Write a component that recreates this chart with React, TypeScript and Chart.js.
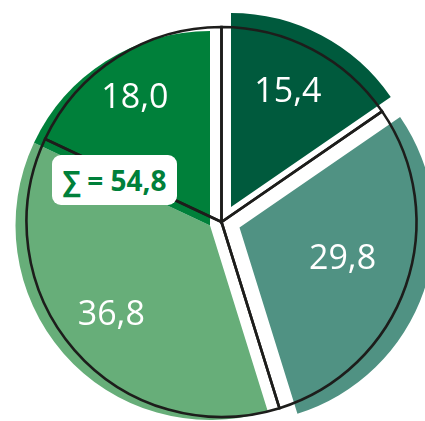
import React, { useEffect, useRef } from "react";
import { Chart, registerables } from "chart.js";

Chart.register(...registerables);

// ---- data ----
const categories = ["Teil 1", "Teil 2", "Teil 3", "Teil 4"];
const values = [15.4, 29.8, 36.8, 18.0];
const groupedIdx = [2, 3]; // slices summed in the badge

// ---- styling (kept apart from data) ----
const W = 425;
const H = 421;
const COLORS = ["#005a3d", "#509283", "#67ae79", "#00803a"];
const OUTLINE = "#1d1d1b";
const labelFrac = [0.76, 0.646, 0.734, 0.782];
const labelNudgeDeg = [-1.1, -3, 1.4, -2.2];

const fmt = (v: number) => v.toFixed(1).replace(".", ",");

const labelPlugin = {
  id: "sliceLabels",
  afterDatasetsDraw(chart: any) {
    const ctx = chart.ctx as CanvasRenderingContext2D;
    const meta = chart.getDatasetMeta(0);
    ctx.save();
    ctx.fillStyle = "#ffffff";
    ctx.font = '34px "Open Sans"';
    ctx.textAlign = "center";
    ctx.textBaseline = "alphabetic";
    meta.data.forEach((arc: any, i: number) => {
      const p = arc.getProps(["x", "y", "startAngle", "endAngle", "outerRadius"], true);
      const mid = (p.startAngle + p.endAngle) / 2 + (labelNudgeDeg[i] * Math.PI) / 180;
      const d = p.outerRadius * labelFrac[i];
      const x = p.x + Math.cos(mid) * d;
      const y = p.y + Math.sin(mid) * d;
      ctx.fillText(fmt(values[i]), x, y + 12);
    });
    ctx.restore();
  },
};

type LayerProps = {
  fills: string[];
  cx: number;
  cy: number;
  r: number;
  border?: string;
  borderWidth?: number;
  withLabels?: boolean;
};

function PieLayer({ fills, cx, cy, r, border, borderWidth, withLabels }: LayerProps) {
  const ref = useRef<HTMLCanvasElement>(null);
  useEffect(() => {
    const padX = 2 * cx - W;
    const padY = 2 * cy - H;
    const padding = {
      left: Math.max(padX, 0),
      right: Math.max(-padX, 0),
      top: Math.max(padY, 0),
      bottom: Math.max(-padY, 0),
    };
    const chart = new Chart(ref.current as HTMLCanvasElement, {
      type: "pie",
      data: {
        labels: categories,
        datasets: [
          {
            data: values,
            backgroundColor: fills,
            borderColor: border ?? "rgba(0,0,0,0)",
            borderWidth: borderWidth ?? 0,
            borderJoinStyle: "miter",
            clip: false,
          } as any,
        ],
      },
      options: {
        responsive: true,
        maintainAspectRatio: false,
        animation: false,
        events: [],
        radius: r,
        layout: { padding },
        plugins: { legend: { display: false }, tooltip: { enabled: false } },
      } as any,
      plugins: withLabels ? [labelPlugin] : [],
    });
    return () => chart.destroy();
  }, []);
  return (
    <div style={{ position: "absolute", left: 0, top: 0, width: W, height: H }}>
      <canvas ref={ref} />
    </div>
  );
}

const T = "rgba(0,0,0,0)";

export default function App() {
  const groupSum = groupedIdx.reduce((s, i) => s + values[i], 0);
  return (
    <div
      style={{
        position: "fixed",
        left: 0,
        top: 0,
        width: W,
        height: H,
        overflow: "hidden",
        background: "#ffffff",
      }}
    >
      <PieLayer fills={[T, T, COLORS[2], COLORS[3]]} cx={210} cy={225.5} r={194.5} />
      <PieLayer fills={[COLORS[0], T, T, T]} cx={231} cy={207} r={194} />
      <PieLayer fills={[T, COLORS[1], T, T]} cx={239.5} cy={227.5} r={195} />
      <PieLayer fills={[T, T, T, T]} cx={221.5} cy={222} r={195} border={OUTLINE} borderWidth={2.6} withLabels />
      <div
        style={{
          position: "absolute",
          left: 52,
          top: 155,
          width: 125,
          height: 50,
          borderRadius: 9,
          background: "#ffffff",
          color: "#00803a",
          fontFamily: '"Open Sans", "DejaVu Sans", sans-serif',
          fontWeight: 700,
          fontSize: 28,
          display: "flex",
          alignItems: "center",
          justifyContent: "center",
          whiteSpace: "nowrap",
        }}
      >
        {`∑ = ${fmt(groupSum)}`}
      </div>
    </div>
  );
}
